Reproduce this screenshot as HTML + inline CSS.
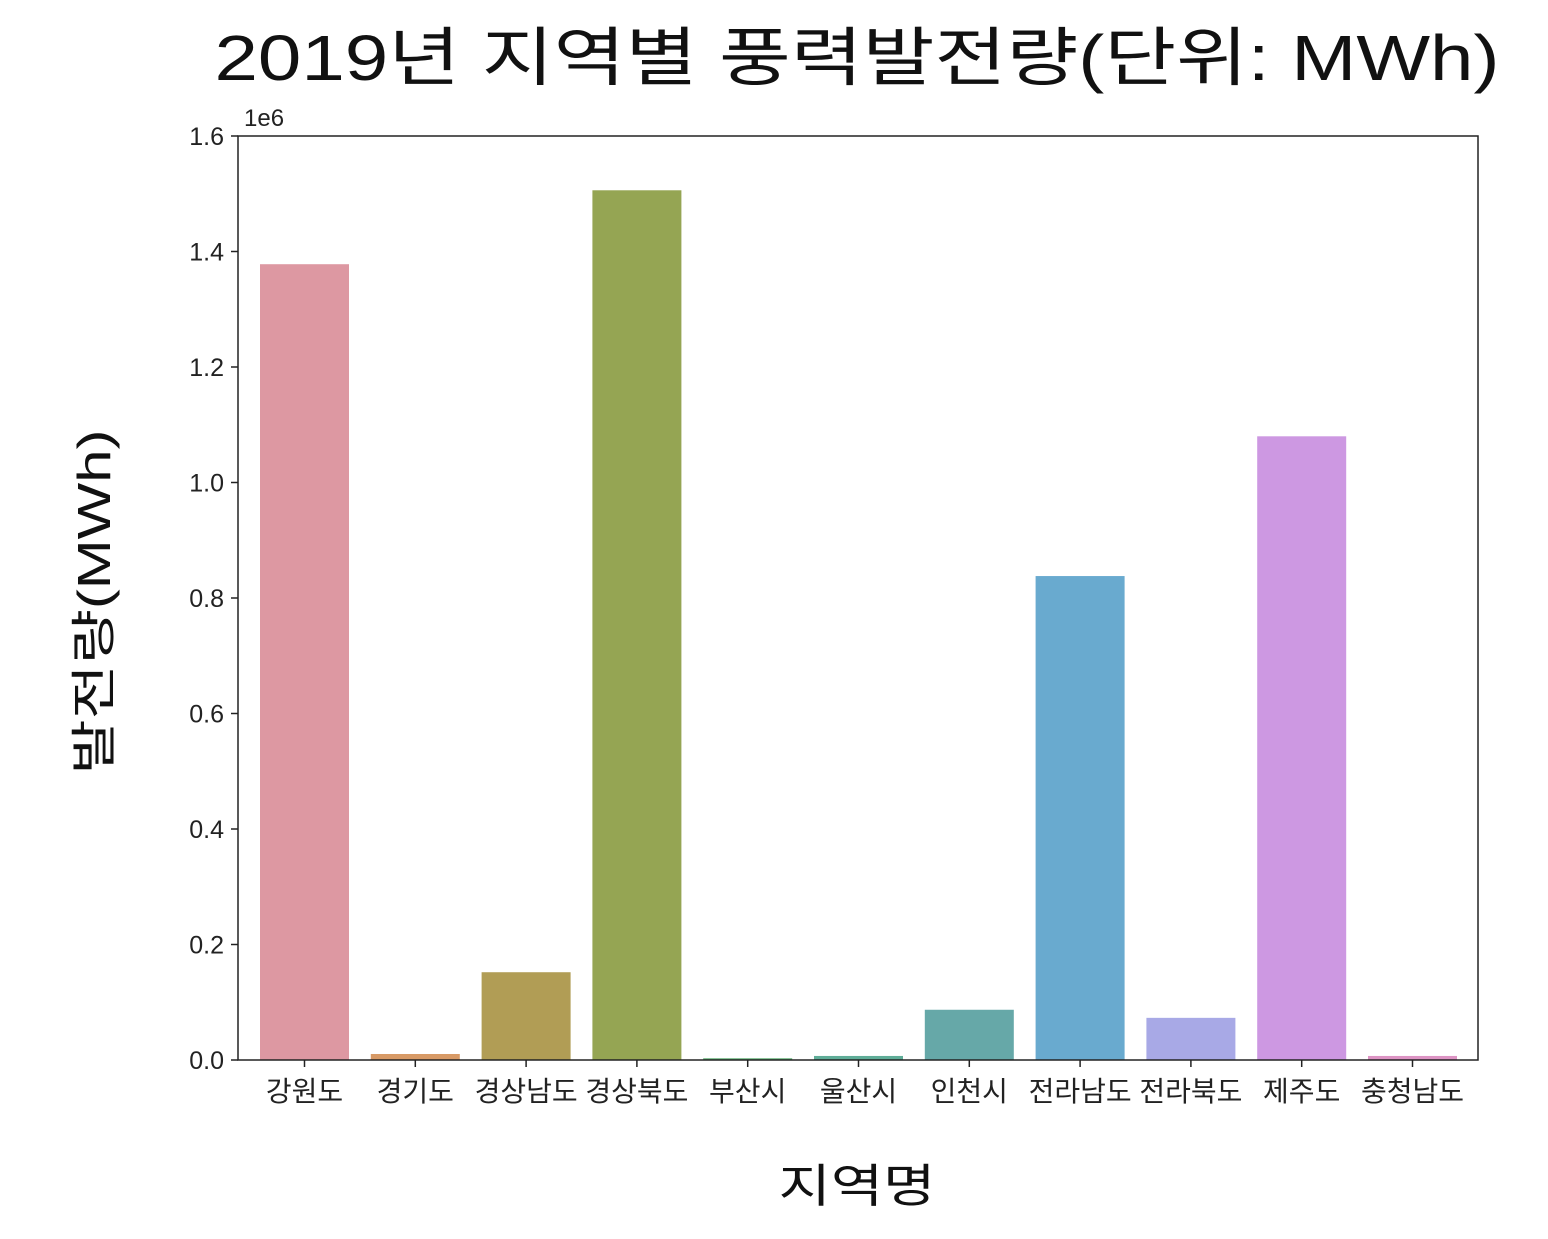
<!DOCTYPE html>
<html><head><meta charset="utf-8">
<style>
html,body{margin:0;padding:0;background:#fff;}
svg text{font-family:"Liberation Sans","Noto Sans CJK KR",sans-serif;}
</style></head>
<body>
<svg id="chart" width="1548" height="1234" xmlns="http://www.w3.org/2000/svg">
<text x="857" y="80" font-size="64" text-anchor="middle" textLength="1285" lengthAdjust="spacingAndGlyphs" fill="#111">2019년 지역별 풍력발전량(단위: MWh)</text>
<g id="plot"></g>
<text x="857" y="1202" font-size="46" text-anchor="middle" textLength="157" lengthAdjust="spacingAndGlyphs" fill="#111">지역명</text>
<text transform="translate(110,602) rotate(-90)" font-size="46" text-anchor="middle" textLength="345" lengthAdjust="spacingAndGlyphs" fill="#111">발전량(MWh)</text>
<text x="244" y="126" font-size="24" fill="#222">1e6</text>
</svg>
<script>
const categories=["강원도","경기도","경상남도","경상북도","부산시","울산시","인천시","전라남도","전라북도","제주도","충청남도"];
const values=[1378000,10400,152000,1506000,3000,7000,87000,838000,73000,1080000,7000];
const colors=["#dd98a2","#d89a66","#b19d55","#95a553","#5fae74","#5fad98","#66a8a8","#69aacf","#a8a9e6","#cd98e2","#dd94c4"];
const yTicks=[0,0.2,0.4,0.6,0.8,1.0,1.2,1.4,1.6];
const L=238,R=1478,T=136,B=1060,YMAX=1.6e6;
const y=v=>B-(v/YMAX)*(B-T);
const step=110.8, BW=89, X0=260;
const x=i=>X0+step*i;
const g=document.getElementById('plot');
const NS="http://www.w3.org/2000/svg";
function mk(t,a){const e=document.createElementNS(NS,t);for(const k in a)e.setAttribute(k,a[k]);return e;}
categories.forEach((c,i)=>{
  const r=mk('rect',{x:x(i),y:y(values[i]),width:BW,height:B-y(values[i]),fill:colors[i]});
  
  
  g.appendChild(r);
  const cx=x(i)+BW/2;
  const tk=mk('line',{x1:cx,x2:cx,y1:B,y2:B+7,stroke:'#222','stroke-width':1.5});
  
  
  g.appendChild(tk);
  const t=mk('text',{x:cx,y:B+41,'font-size':28,'text-anchor':'middle',fill:'#222'});
  t.textContent=c;
  
  
  g.appendChild(t);
});
yTicks.forEach(v=>{
  const yy=y(v*1e6);
  const tk=mk('line',{x1:L-7,x2:L,y1:yy,y2:yy,stroke:'#222','stroke-width':1.5});
  
  
  g.appendChild(tk);
  const t=mk('text',{x:L-14,y:yy+9,'font-size':25,'text-anchor':'end',fill:'#222'});
  t.textContent=v.toFixed(1);
  
  
  g.appendChild(t);
});
const f=mk('rect',{x:L,y:T,width:R-L,height:B-T,fill:'none',stroke:'#222','stroke-width':1.5});


g.appendChild(f);
</script>
</body></html>
